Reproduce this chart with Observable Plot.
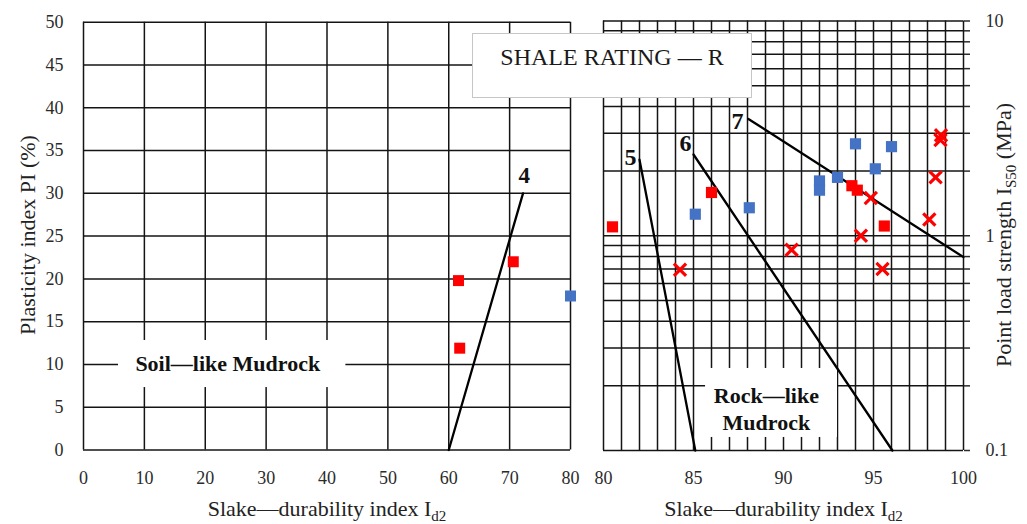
<!DOCTYPE html>
<html>
<head>
<meta charset="utf-8">
<script src="https://cdn.jsdelivr.net/npm/d3@7"></script>
<script src="https://cdn.jsdelivr.net/npm/@observablehq/plot@0.6"></script>
<style>
html, body { margin: 0; padding: 0; background: #fff; }
#wrap { position: relative; width: 1027px; height: 524px; overflow: hidden; font-family: "Liberation Serif", serif; }
#left, #right { position: absolute; top: 0; }
#left { left: 0; }
#right { left: 590px; }
#title { position: absolute; left: 472px; top: 33px; width: 280px; height: 65px; box-sizing: border-box;
  border: 1.5px solid #c6c6c6; background: #fff; color: #1a1a1a; font-size: 24px; line-height: 24px;
  text-align: center; padding-top: 11px; }
</style>
</head>
<body>
<div id="wrap">
  <div id="left"></div>
  <div id="right"></div>
  <div id="title">SHALE RATING — R</div>
</div>
<script>
// ---------- data ----------
// Left panel: Plasticity index PI (%) vs slake-durability index
const leftXTicks = [0, 10, 20, 30, 40, 50, 60, 70, 80];
const leftYTicks = [0, 5, 10, 15, 20, 25, 30, 35, 40, 45, 50];
const leftRedSquares = [
  {x: 61.6, y: 19.8},
  {x: 61.8, y: 11.9},
  {x: 70.6, y: 22.0}
];
const leftBlueSquares = [
  {x: 80.0, y: 18.0}
];
const line4 = [{x: 60, y: 0}, {x: 72.2, y: 30}];
const leftLineLabels = [{x: 72.4, y: 32.1, text: "4"}];
const soilBox = [{x1: 5.75, x2: 43.1, y1: 7.3, y2: 12.8}];
const soilLabel = [{x: 23.7, y: 10.1, text: "Soil\u2014like Mudrock"}];

// Right panel: Point load strength Is50 (MPa) vs slake-durability index
const rightXGrid = [80,81,82,83,84,85,86,87,88,89,90,91,92,93,94,95,96,97,98,99,100];
const rightXTicks = [80, 85, 90, 95, 100];
const logGrid = [0.1,0.2,0.3,0.4,0.5,0.6,0.7,0.8,0.9,1,2,3,4,5,6,7,8,9,10];
const logLabels = [0.1, 1, 10];
const rightRedSquares = [
  {x: 80.5, y: 1.10},
  {x: 86.0, y: 1.59},
  {x: 93.8, y: 1.71},
  {x: 94.1, y: 1.63},
  {x: 95.6, y: 1.11}
];
const rightBlueSquares = [
  {x: 85.1, y: 1.26},
  {x: 88.1, y: 1.35},
  {x: 92.0, y: 1.80},
  {x: 92.0, y: 1.63},
  {x: 93.0, y: 1.87},
  {x: 94.0, y: 2.68},
  {x: 95.1, y: 2.05},
  {x: 96.0, y: 2.60}
];
const rightRedCrosses = [
  {x: 84.25, y: 0.695},
  {x: 90.45, y: 0.86},
  {x: 94.3, y: 1.0},
  {x: 94.85, y: 1.50},
  {x: 95.5, y: 0.70},
  {x: 98.1, y: 1.19},
  {x: 98.45, y: 1.87},
  {x: 98.75, y: 2.94},
  {x: 98.72, y: 2.79}
];
const ratingLines = [
  {id: "5", x: 82.0, y: 2.26}, {id: "5", x: 85.1, y: 0.1},
  {id: "6", x: 85.0, y: 2.39}, {id: "6", x: 96.05, y: 0.1},
  {id: "7", x: 88.05, y: 3.50}, {id: "7", x: 100, y: 0.795}
];
const rightLineLabels = [
  {x: 81.5, y: 2.31, text: "5"},
  {x: 84.55, y: 2.68, text: "6"},
  {x: 87.45, y: 3.42, text: "7"}
];
const rockBox = [{x1: 85.67, x2: 93.0, y1: 0.115, y2: 0.241}];
const rockLabel = [{x: 89.05, y: 0.1585, text: "Rock\u2014like\nMudrock"}];

// ---------- styles ----------
const GRID = {stroke: "#141414", strokeWidth: 1.5};
const RED = "#ff0000";
const BLUE = "#4472c4";
const baseStyle = {fontFamily: "Liberation Serif, serif", fontSize: "18px", color: "#2b2b2b", background: "transparent", overflow: "visible"};

// ---------- left plot ----------
const leftPlot = Plot.plot({
  width: 590, height: 524,
  marginTop: 21.7, marginBottom: 74.5, marginLeft: 83, marginRight: 20,
  x: {domain: [0, 80]},
  y: {domain: [0, 50]},
  style: baseStyle,
  marks: [
    Plot.ruleX(leftXTicks, GRID),
    Plot.ruleY(leftYTicks, GRID),
    Plot.rect(soilBox, {x1: "x1", x2: "x2", y1: "y1", y2: "y2", fill: "white"}),
    Plot.text(soilLabel, {x: "x", y: "y", text: "text", fontSize: 22, fontWeight: "bold", fill: "#111"}),
    Plot.line(line4, {x: "x", y: "y", stroke: "#000", strokeWidth: 2.3}),
    Plot.text(leftLineLabels, {x: "x", y: "y", text: "text", fontSize: 23, fontWeight: "bold", fill: "#111"}),
    Plot.dot(leftRedSquares, {x: "x", y: "y", symbol: "square", fill: RED, r: 6.2}),
    Plot.dot(leftBlueSquares, {x: "x", y: "y", symbol: "square", fill: BLUE, r: 6.2}),
    Plot.axisX({ticks: leftXTicks, tickSize: 0, tickPadding: 21, label: null}),
    Plot.axisY({ticks: leftYTicks, tickSize: 0, tickPadding: 20, label: null})
  ]
});
document.getElementById("left").appendChild(leftPlot);

// ---------- right plot ----------
const rightPlot = Plot.plot({
  width: 437, height: 524,
  marginTop: 20.5, marginBottom: 74, marginLeft: 13, marginRight: 64,
  x: {domain: [80, 100]},
  y: {type: "log", domain: [0.1, 10]},
  style: baseStyle,
  marks: [
    Plot.ruleX(rightXGrid, GRID),
    Plot.ruleY(logGrid, GRID),
    Plot.rect(rockBox, {x1: "x1", x2: "x2", y1: "y1", y2: "y2", fill: "white"}),
    Plot.text(rockLabel, {x: "x", y: "y", text: "text", fontSize: 22, fontWeight: "bold", lineHeight: 1.245, fill: "#111"}),
    Plot.line(ratingLines, {x: "x", y: "y", z: "id", stroke: "#000", strokeWidth: 2.3}),
    Plot.text(rightLineLabels, {x: "x", y: "y", text: "text", fontSize: 24, fontWeight: "bold", fill: "#111"}),
    Plot.dot(rightBlueSquares, {x: "x", y: "y", symbol: "square", fill: BLUE, r: 6.3}),
    Plot.dot(rightRedSquares, {x: "x", y: "y", symbol: "square", fill: RED, r: 6.3}),
    Plot.dot(rightRedCrosses, {x: "x", y: "y", symbol: "times", stroke: RED, strokeWidth: 3.2, r: 5.6}),
    Plot.axisX({ticks: rightXTicks, tickSize: 0, tickPadding: 21, label: null}),
    Plot.axisY({anchor: "right", ticks: logGrid, tickSize: 6, tickPadding: 16, strokeWidth: 1.5,
      tickFormat: d => logLabels.includes(d) ? String(d) : "", label: null})
  ]
});
document.getElementById("right").appendChild(rightPlot);

// ---------- axis titles (with subscripts) ----------
function title(svg, x, y, rotate, parts) {
  const t = d3.select(svg).append("text")
    .attr("transform", `translate(${x},${y})` + (rotate ? " rotate(-90)" : ""))
    .attr("text-anchor", "middle")
    .attr("font-family", "Liberation Serif, serif")
    .attr("font-size", 22)
    .attr("fill", "#222");
  parts.forEach(p => {
    const s = t.append("tspan").text(p.t);
    if (p.sub) s.attr("font-size", 15).attr("dy", p.dy);
    else if (p.dy) s.attr("dy", p.dy);
  });
}
title(leftPlot, 27, 235, true, [{t: "Plasticity index PI (%)", dy: "0.35em"}]);
title(leftPlot, 327, 516, false, [{t: "Slake\u2014durability index I"}, {t: "d2", sub: true, dy: 5}]);
title(rightPlot, 193.5, 516, false, [{t: "Slake\u2014durability index I"}, {t: "d2", sub: true, dy: 5}]);
title(rightPlot, 413, 235, true, [{t: "Point load strength I", dy: "0.35em"}, {t: "S50", sub: true, dy: 5}, {t: " (MPa)", dy: -5}]);
</script>
</body>
</html>
